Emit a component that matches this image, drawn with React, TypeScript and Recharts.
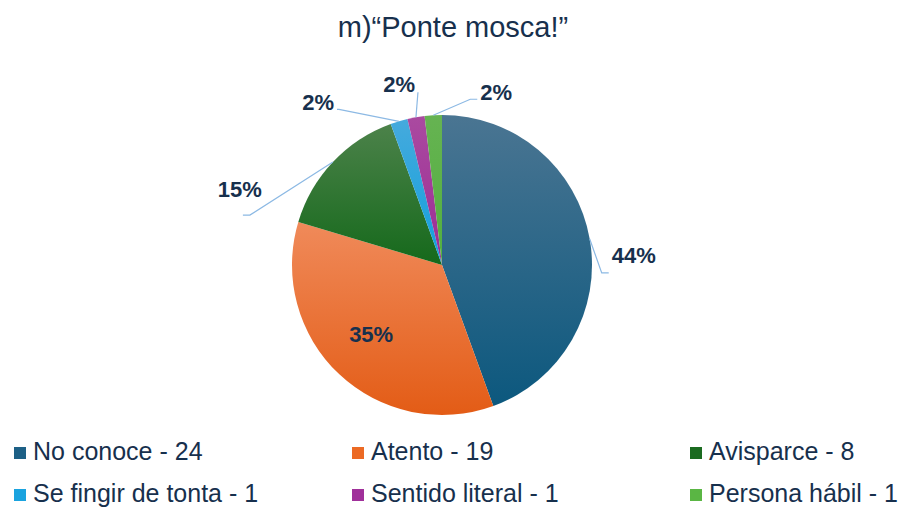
import React from 'react';
import { PieChart, Pie, Cell, Legend } from 'recharts';

const TITLE = 'm)“Ponte mosca!”';
const CATEGORIES = ['No conoce', 'Atento', 'Avisparce', 'Se fingir de tonta', 'Sentido literal', 'Persona hábil'];
const COUNTS = [24, 19, 8, 1, 1, 1];

// gradient stops per slice (top -> bottom), plus flat colour for the legend swatch
const GRADIENTS = [
    ['#4a7592', '#0c587e'],
    ['#f08a5a', '#e35c16'],
    ['#4c824a', '#15691b'],
    ['#45aadd', '#12a0dc'],
    ['#aa4aa0', '#9b2c94'],
    ['#66b352', '#52b03e'],
];
const SWATCH = ['#1d6086', '#ec6a24', '#1b6b20', '#1aa3df', '#a0309a', '#5ab644'];

const FONT = '"Liberation Sans", Arial, sans-serif';
const TEXT_COLOR = '#17304d';
const LEADER = '#8cb9e4';

// leader line / text placement per slice (pixel offsets from the slice edge at mid angle)
const LABEL_LAYOUT: any[] = [
    { kind: 'out', elbow: [12, 34], tail: 7, text: [3, -10], anchor: 'start' },
    { kind: 'in', r: 0.63, text: [-6, 1] },
    { kind: 'out', elbow: [-83, 53], tail: -7, text: [-3, -18], anchor: 'middle' },
    { kind: 'out', elbow: [-60, -12], tail: -2, text: [-3, 1], anchor: 'end' },
    { kind: 'out', elbow: [2, -25], tail: 0, text: [-3, 0], anchor: 'end' },
    { kind: 'out', elbow: [37, -16], tail: 7, text: [3, 1], anchor: 'start' },
];

const data = CATEGORIES.map((name, i) => ({ name, value: COUNTS[i] }));

const RAD = Math.PI / 180;

const renderLabel = (props: any) => {
    const { cx, cy, midAngle, outerRadius, percent, index } = props;
    const cfg = LABEL_LAYOUT[index];
    const label = `${Math.round(percent * 100)}%`;
    const cos = Math.cos(-midAngle * RAD);
    const sin = Math.sin(-midAngle * RAD);
    const textStyle = { fontFamily: FONT, fontSize: 22, fontWeight: 700, fill: TEXT_COLOR };

    if (cfg.kind === 'in') {
        const r = outerRadius * cfg.r;
        const x = cx + r * cos + cfg.text[0];
        const y = cy + r * sin + cfg.text[1];
        return (
            <text key={`l-${index}`} x={x} y={y + 7} textAnchor="middle" style={textStyle}>
                {label}
            </text>
        );
    }

    const sx = cx + outerRadius * cos;
    const sy = cy + outerRadius * sin;
    const ex = sx + cfg.elbow[0];
    const ey = sy + cfg.elbow[1];
    const tx = ex + cfg.tail;
    return (
        <g key={`l-${index}`}>
            <polyline
                points={`${sx},${sy} ${ex},${ey} ${tx},${ey}`}
                fill="none"
                stroke={LEADER}
                strokeWidth={1.2}
            />
            <text x={tx + cfg.text[0]} y={ey + cfg.text[1]} textAnchor={cfg.anchor} style={textStyle}>
                {label}
            </text>
        </g>
    );
};

const renderLegend = () => (
    <div
        style={{
            display: 'grid',
            gridTemplateColumns: '338px 338px 228px',
            paddingLeft: 14,
            fontFamily: FONT,
            fontSize: 25,
            lineHeight: '42px',
            color: TEXT_COLOR,
        }}
    >
        {data.map((d, i) => (
            <div key={d.name} style={{ display: 'flex', alignItems: 'center', whiteSpace: 'nowrap' }}>
                <span style={{ width: 12, height: 12, background: SWATCH[i], marginRight: 7, marginTop: 4, flex: 'none' }} />
                <span>{`${d.name} - ${d.value}`}</span>
            </div>
        ))}
    </div>
);

export default function App() {
    return (
        <div style={{ position: 'relative', width: 904, height: 510, background: '#fff' }}>
            <style>{`body{margin:0}`}</style>
            <PieChart width={904} height={510} margin={{ top: 0, right: 0, bottom: 0, left: 0 }}>
                <defs>
                    {GRADIENTS.map((g, i) => (
                        <linearGradient key={i} id={`slice-${i}`} x1="0" y1="0" x2="0" y2="1">
                            <stop offset="0%" stopColor={g[0]} />
                            <stop offset="100%" stopColor={g[1]} />
                        </linearGradient>
                    ))}
                </defs>
                <Pie
                    data={data}
                    dataKey="value"
                    nameKey="name"
                    cx={442}
                    cy={265}
                    outerRadius={150}
                    startAngle={90}
                    endAngle={-270}
                    stroke="none"
                    label={renderLabel}
                    labelLine={false}
                    isAnimationActive={false}
                >
                    {data.map((d, i) => (
                        <Cell key={d.name} fill={`url(#slice-${i})`} />
                    ))}
                </Pie>
                <Legend
                    content={renderLegend}
                    wrapperStyle={{ position: 'absolute', left: 0, top: 430, width: 904 }}
                />
            </PieChart>
            <svg width={904} height={60} style={{ position: 'absolute', left: 0, top: 0, pointerEvents: 'none' }}>
                <text x={453} y={37} textAnchor="middle" style={{ fontFamily: FONT, fontSize: 29, fill: TEXT_COLOR }}>
                    {TITLE}
                </text>
            </svg>
        </div>
    );
}
